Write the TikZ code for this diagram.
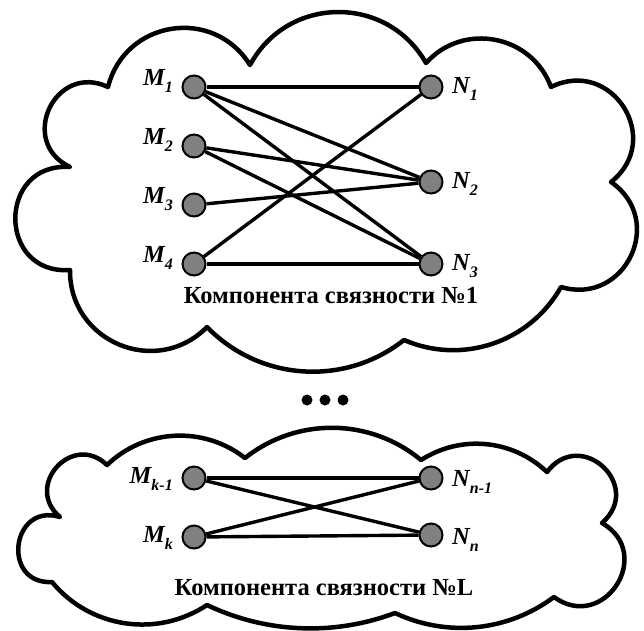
\documentclass[tikz,border=0pt]{standalone}
\usepackage{fontspec}
\setmainfont{Liberation Serif}
\usetikzlibrary{calc}
\definecolor{vgray}{RGB}{128,128,128}
\newcommand\lbl[2]{#1\raisebox{-7pt}{\fontsize{16}{16}\selectfont #2}}
\begin{document}
\begin{tikzpicture}[x=1pt,y=-1pt,
  cloudline/.style={line width=4.5pt, line join=round},
  vert/.style={circle, draw=black, line width=2pt, fill=vgray, minimum size=23pt, inner sep=0pt},
  edge/.style={line width=3.4pt},
  lab/.style={font=\fontsize{24.5}{24.5}\selectfont\bfseries\itshape, inner sep=0pt},
  ttl/.style={font=\fontsize{24.5}{24.5}\selectfont\bfseries, inner sep=0pt},
  dotn/.style={circle, fill=black, minimum size=11pt, inner sep=0pt}]
\useasboundingbox (0,0) rectangle (644,630);
% top cloud
\draw[cloudline] (70,167) to[bend left=90,looseness=1.69] (108,87)
  to[bend left=67,looseness=1.23] (250,65)
  to[bend left=61,looseness=1.15] (426,63)
  to[bend left=59,looseness=1.12] (551,87)
  to[bend left=84,looseness=1.55] (611,182)
  to[bend left=81,looseness=1.48] (561,287)
  to[bend left=42,looseness=0.98] (404,340)
  to[bend left=42,looseness=0.98] (207,327)
  to[bend left=68,looseness=1.24] (70,270)
  to[bend left=94,looseness=1.82] cycle;
% bottom cloud
\draw[cloudline] (60,517) to[bend left=92,looseness=1.75] (107,465)
  to[bend left=41,looseness=0.97] (245,458)
  to[bend left=39,looseness=0.96] (421,460)
  to[bend left=38,looseness=0.96] (547,472)
  to[bend left=96,looseness=1.92] (602,523)
  to[bend left=93,looseness=1.78] (554,597)
  to[bend left=31,looseness=0.92] (395,613)
  to[bend left=23,looseness=0.89] (207,605)
  to[bend left=42,looseness=0.98] (52,582)
  to[bend left=100,looseness=2.0] cycle;
% vertices, component 1
\node[vert] (M1) at (194,87) {};
\node[vert] (M2) at (194,146) {};
\node[vert] (M3) at (194,205) {};
\node[vert] (M4) at (194,264) {};
\node[vert] (N1) at (431,87) {};
\node[vert] (N2) at (431,182) {};
\node[vert] (N3) at (431,264) {};
\node[lab,anchor=base east] (M1l) at (173,85) {\lbl{M}{1}};
\node[lab,anchor=base east] (M2l) at (173,144) {\lbl{M}{2}};
\node[lab,anchor=base east] (M3l) at (173,203) {\lbl{M}{3}};
\node[lab,anchor=base east] (M4l) at (173,262) {\lbl{M}{4}};
\node[lab,anchor=base west] (N1l) at (452,93) {\lbl{N}{1}};
\node[lab,anchor=base west] (N2l) at (452,188) {\lbl{N}{2}};
\node[lab,anchor=base west] (N3l) at (452,270) {\lbl{N}{3}};
\draw[edge] (M1) -- (N1);
\draw[edge] (M1) -- (N2);
\draw[edge] (M1) -- (N3);
\draw[edge] (M2) -- (N2);
\draw[edge] (M2) -- (N3);
\draw[edge] (M3) -- (N2);
\draw[edge] (M4) -- (N1);
\draw[edge] (M4) -- (N3);
\node[ttl,anchor=base] (T1) at (331,303) {Компонента связности №1};
% dots
\node[dotn] (d1) at (307,400) {};
\node[dotn] (d2) at (325,400) {};
\node[dotn] (d3) at (343,400) {};
% component L
\node[vert] (Mk1) at (194,478) {};
\node[vert] (Mk) at (194,537) {};
\node[vert] (Nn1) at (431,478) {};
\node[vert] (Nn) at (431,535) {};
\node[lab,anchor=base east] (Mk1l) at (173,483) {\lbl{M}{k-1}};
\node[lab,anchor=base east] (Mkl) at (173,542) {\lbl{M}{k}};
\node[lab,anchor=base west] (Nn1l) at (452,486) {\lbl{N}{n-1}};
\node[lab,anchor=base west] (Nnl) at (452,544) {\lbl{N}{n}};
\draw[edge] (Mk1) -- (Nn1);
\draw[edge] (Mk1) -- (Nn);
\draw[edge] (Mk) -- (Nn1);
\draw[edge] (Mk) -- (Nn);
\node[ttl,anchor=base] (TL) at (324,595) {Компонента связности №L};
\end{tikzpicture}
\end{document}
